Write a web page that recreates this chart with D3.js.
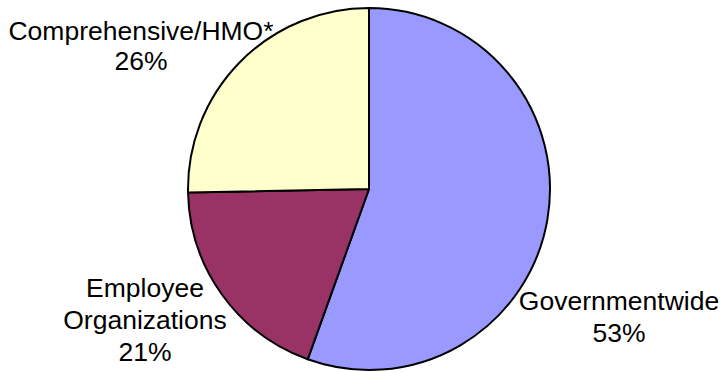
<!DOCTYPE html>
<html>
<head>
<meta charset="utf-8">
<script src="https://cdn.jsdelivr.net/npm/d3@7"></script>
<style>
  html, body { margin: 0; padding: 0; background: #fff; }
  svg { display: block; }
  text { font-family: "Liberation Sans", Arial, sans-serif; fill: #000; }
</style>
</head>
<body>
<svg id="chart" width="726" height="372"></svg>
<script>
// Data
const categories = ["Governmentwide", "Employee Organizations", "Comprehensive/HMO*"];
const sliceValues = [55.5, 19.2, 25.3];          // slice sizes as drawn
const percentLabels = ["53%", "21%", "26%"];      // printed labels
const nameLines = [["Governmentwide"], ["Employee", "Organizations"], ["Comprehensive/HMO*"]];
const colors = ["#9999FF", "#993366", "#FFFFCC"];

const W = 726, H = 372;
const cx = 369, cy = 189, R = 181;
const svg = d3.select("#chart");

const pie = d3.pie().sort(null).value(d => d)(sliceValues);
const arc = d3.arc().innerRadius(0).outerRadius(R);

const g = svg.append("g").attr("transform", `translate(${cx},${cy})`);
g.selectAll("path").data(pie).join("path")
  .attr("d", arc)
  .attr("fill", (d, i) => colors[i])
  .attr("stroke", "#000")
  .attr("stroke-width", 2)
  .attr("stroke-linejoin", "round");

// Label layout (positions of text blocks: center x, first baseline y)
const labelPos = [
  { x: 619, y: 310, lh: 32 },
  { x: 145, y: 297, lh: 32 },
  { x: 141, y: 40, lh: 30 }
];
const fontSize = 26.5;

categories.forEach((c, i) => {
  const lines = nameLines[i].concat([percentLabels[i]]);
  const t = svg.append("text")
    .attr("text-anchor", "middle")
    .attr("font-size", fontSize);
  lines.forEach((ln, j) => {
    t.append("tspan")
      .attr("x", labelPos[i].x)
      .attr("y", labelPos[i].y + j * labelPos[i].lh)
      .text(ln);
  });
});
</script>
</body>
</html>
